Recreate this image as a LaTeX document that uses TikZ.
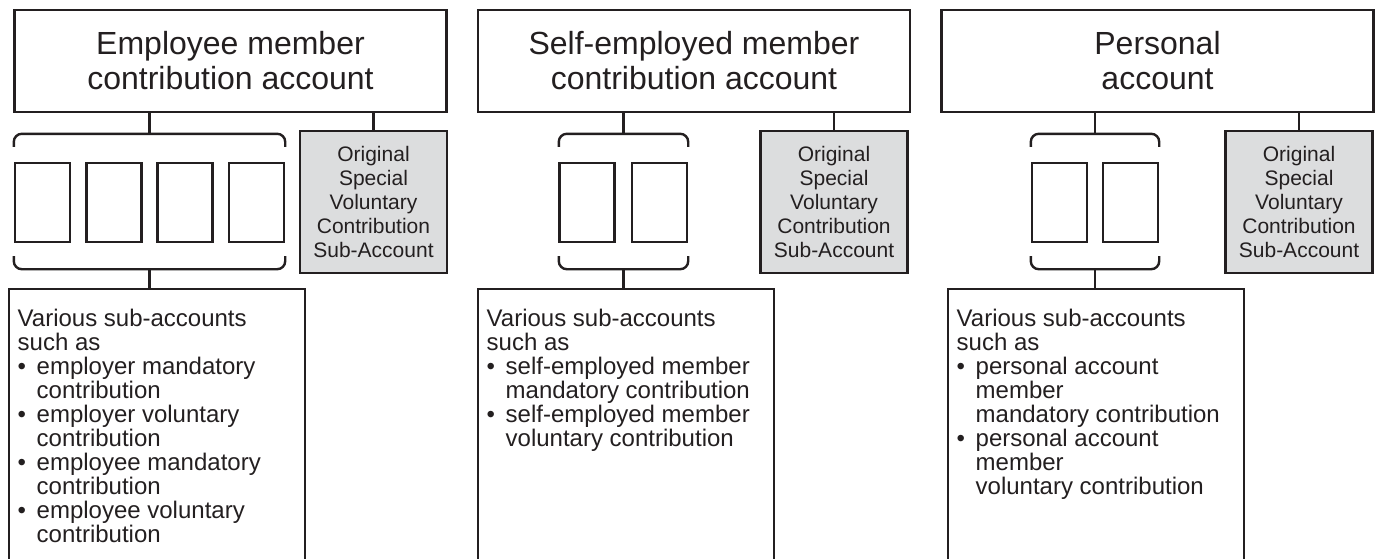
\documentclass[tikz,border=0pt]{standalone}
\usepackage{fontspec}
\setmainfont{Liberation Sans}
\usetikzlibrary{positioning}
\definecolor{origgrey}{RGB}{220,221,222}
\definecolor{ink}{RGB}{35,31,32}
\newcommand{\bul}{\makebox[19pt][l]{\textbullet}}
\newcommand{\ind}{\makebox[19pt]{}}

\begin{document}
\begin{tikzpicture}[x=1pt, y=-1pt, line width=2.4pt, ink,
  acct/.style={draw, minimum width=432, minimum height=102, align=center,
    font=\fontsize{32}{35}\selectfont},
  orig/.style={draw, fill=origgrey, minimum width=147, minimum height=142,
    align=center, font=\fontsize{21}{24}\selectfont},
  sub/.style={draw, minimum width=55, minimum height=79},
  grp/.style={minimum height=133, inner sep=0},
  lstbox/.style={draw, minimum width=296, minimum height=300, anchor=north west},
  lst/.style={anchor=north west, align=left, inner xsep=8.5, inner ysep=20,
    font=\fontsize{24}{24}\selectfont},
  brace/.style={rounded corners=8}]
\useasboundingbox (0,0) rectangle (1381,558);
\clip (0,0) rectangle (1381,558);

% accounts
\foreach \t [count=\i] in {Employee member\\contribution account,
    Self-employed member\\contribution account, Personal\\account}
  \node [acct] (acct\i) at (230.5+463.5*\i-463.5, 61) {\t};

% original special voluntary contribution sub-accounts
\foreach \x [count=\i] in {373.5, 834, 1299}
  \node [orig] (orig\i) at (\x, 202) {Original\\Special\\Voluntary\\Contribution\\Sub-Account};

% groups of sub-accounts
\node [grp, minimum width=269] (grp1) at (149.5, 201.5) {};
\node [grp, minimum width=127] (grp2) at (623.5, 201.5) {};
\node [grp, minimum width=126] (grp3) at (1095, 201.5) {};

\foreach \x [count=\i] in {42.5, 114, 185, 256.5}
  \node [sub] (sub1-\i) at (\x, 202.5) {};
\foreach \x [count=\i] in {587, 659.5}
  \node [sub] (sub2-\i) at (\x, 202.5) {};
\foreach \x [count=\i] in {1059.5, 1130.5}
  \node [sub] (sub3-\i) at (\x, 202.5) {};

% brackets round the groups
\foreach \i in {1, 2, 3} {
  \draw [brace] ([yshift=-13pt]grp\i.north west) |- (grp\i.north)
    -| ([yshift=-13pt]grp\i.north east);
  \draw [brace] ([yshift=13pt]grp\i.south west) |- (grp\i.south)
    -| ([yshift=13pt]grp\i.south east);
}

% lists below
\node [lstbox] (lstbox1) at (8, 288) {};
\node [lstbox] (lstbox2) at (477, 288) {};
\node [lstbox] (lstbox3) at (947, 288) {};

\node [lst] (lst1) at (lstbox1.north west) {Various sub-accounts\\such as\\
  \bul employer mandatory\\\ind contribution\\
  \bul employer voluntary\\\ind contribution\\
  \bul employee mandatory\\\ind contribution\\
  \bul employee voluntary\\\ind contribution};
\node [lst] (lst2) at (lstbox2.north west) {Various sub-accounts\\such as\\
  \bul self-employed member\\\ind mandatory contribution\\
  \bul self-employed member\\\ind voluntary contribution};
\node [lst] (lst3) at (lstbox3.north west) {Various sub-accounts\\such as\\
  \bul personal account\\\ind member\\\ind mandatory contribution\\
  \bul personal account\\\ind member\\\ind voluntary contribution};

% edges
\foreach \i in {1, 2, 3} {
  \draw (acct\i.south -| grp\i.north) -- (grp\i.north);
  \draw (acct\i.south -| orig\i.north) -- (orig\i.north);
  \draw (grp\i.south) -- (lstbox\i.north -| grp\i.south);
}
\end{tikzpicture}
\end{document}
